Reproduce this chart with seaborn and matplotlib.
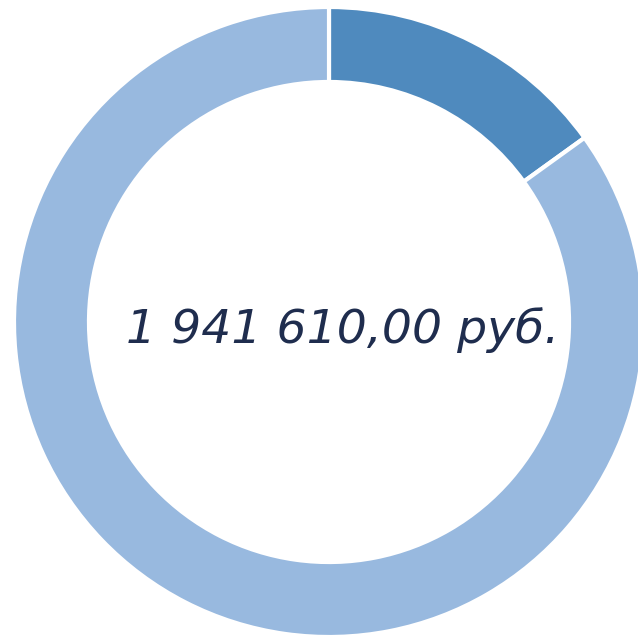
import numpy as np
import pandas as pd
import seaborn as sns
import matplotlib.pyplot as plt

# donut segments (total shown in the centre)
segments = ['Оплачено', 'Остаток']
amounts = [292400, 1649210]
colors = ['#4F8ABE', '#98B9DF']
total_label = '1 941 610,00 руб.'

sns.set_theme(style='white')
plt.rcParams['font.family'] = ['DejaVu Sans']

df = pd.DataFrame({'segment': segments, 'amount': amounts})

fig = plt.figure(figsize=(6.38, 6.39), dpi=100)
ax = fig.add_axes([0, 0, 1, 1])
ax.pie(df['amount'], colors=colors, startangle=90, counterclock=False,
       wedgeprops=dict(width=0.238, edgecolor='white', linewidth=3))

ax.text(0.043, -0.067, total_label, ha='center', va='baseline',
        fontsize=34, style='italic', color='#1F2D4E')

ax.set_xlim(-329 / 315, (638 - 329) / 315)
ax.set_ylim((322 - 639) / 315, 322 / 315)
ax.set_aspect('auto')
ax.axis('off')

fig.savefig('out.png', dpi=100, facecolor='white')
